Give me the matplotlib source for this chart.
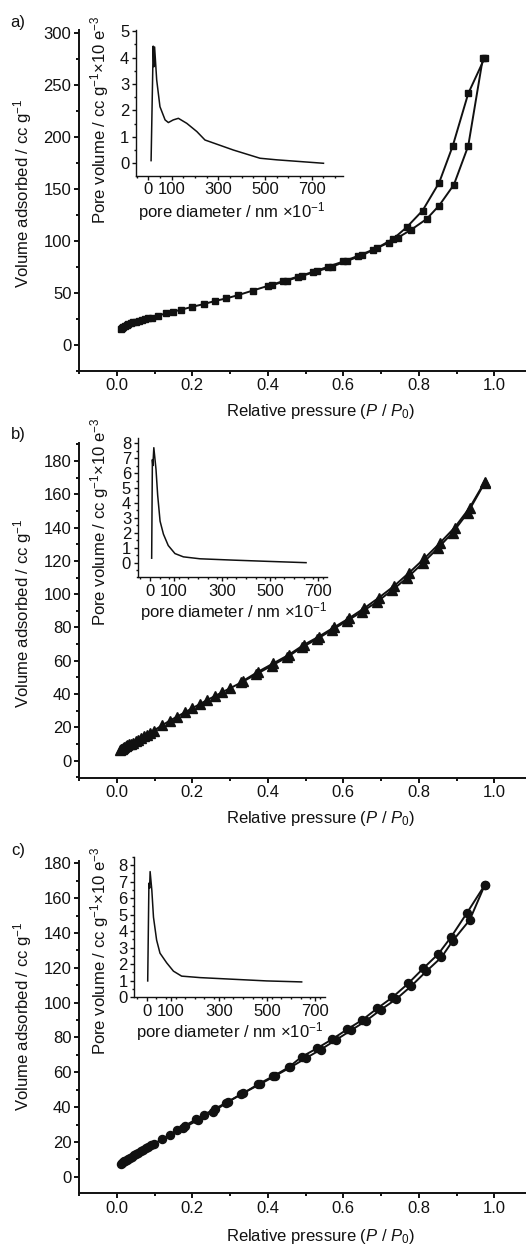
import matplotlib
matplotlib.use("Agg")
import matplotlib.pyplot as plt
from matplotlib.ticker import MultipleLocator, FixedLocator

plt.rcParams['font.family'] = ['Liberation Sans', 'DejaVu Sans']
plt.rcParams['mathtext.fontset'] = 'custom'
plt.rcParams['mathtext.rm'] = 'Liberation Sans'
plt.rcParams['mathtext.it'] = 'Liberation Sans:italic'

# ---- panel a: isotherm (squares) ----
a_ads_p = [0.010, 0.013, 0.017, 0.021, 0.026, 0.031, 0.037, 0.043, 0.050, 0.058, 0.066, 0.075,
           0.084, 0.093, 0.11, 0.13, 0.15, 0.17, 0.20, 0.23, 0.26, 0.29, 0.32, 0.36, 0.40, 0.44,
           0.48, 0.52, 0.56, 0.60, 0.64, 0.68, 0.72, 0.745, 0.779, 0.821, 0.854, 0.893, 0.931, 0.97]
a_ads_v = [15.0, 16.0, 17.0, 18.0, 19.0, 19.8, 20.6, 21.4, 22.2, 23.0, 23.8, 24.6,
           25.4, 26.0, 28.0, 30.0, 31.8, 33.6, 36.4, 39.0, 42.0, 44.5, 47.5, 52.0, 56.5, 61.0,
           65.5, 70.0, 75.0, 80.0, 85.5, 91.5, 98.0, 103.0, 110.3, 120.9, 133.8, 153.8, 191.1, 276.0]
a_des_p = [0.975, 0.931, 0.89, 0.854, 0.81, 0.768, 0.733, 0.69, 0.65, 0.61, 0.57, 0.53, 0.49, 0.45, 0.41]
a_des_v = [276.0, 241.5, 191.1, 155.8, 128.9, 112.9, 102.0, 93.0, 86.0, 80.5, 75.0, 70.5, 66.0, 61.5, 57.0]

# ---- panel b: isotherm (triangles) ----
b_ads_p = [0.008, 0.011, 0.014, 0.017, 0.020, 0.024, 0.028, 0.033, 0.038, 0.044, 0.050, 0.057,
           0.064, 0.072, 0.080, 0.089, 0.098, 0.12, 0.14, 0.16, 0.18, 0.20, 0.22, 0.24, 0.26,
           0.28, 0.30, 0.33, 0.37, 0.41, 0.45, 0.49, 0.53, 0.57, 0.61, 0.65, 0.69, 0.73, 0.77,
           0.81, 0.85, 0.89, 0.93, 0.975]
b_ads_v = [6.3, 6.8, 7.3, 7.8, 8.2, 8.7, 9.2, 9.8, 10.3, 10.9, 11.7, 12.6,
           13.6, 14.6, 15.7, 16.9, 18.1, 21.2, 24.0, 26.5, 29.0, 31.5, 34.0, 36.5, 38.8,
           41.2, 43.5, 47.0, 52.0, 57.0, 62.0, 68.0, 73.0, 78.5, 84.0, 89.5, 95.5, 102.5, 110.0,
           118.5, 127.5, 137.0, 149.0, 167.0]
b_des_p = [0.975, 0.935, 0.895, 0.855, 0.815, 0.775, 0.735, 0.695, 0.655, 0.615, 0.575,
           0.535, 0.495, 0.455, 0.415, 0.375, 0.335]
b_des_v = [167.6, 152.0, 140.0, 130.5, 121.5, 113.0, 105.0, 98.0, 91.5, 85.5, 80.0,
           74.5, 69.5, 63.5, 58.5, 53.5, 48.0]

# ---- panel c: isotherm (circles) ----
c_ads_p = [0.010, 0.013, 0.016, 0.019, 0.022, 0.026, 0.030, 0.035, 0.040, 0.045, 0.051, 0.057,
           0.063, 0.070, 0.077, 0.084, 0.091, 0.098, 0.12, 0.14, 0.16, 0.18, 0.21, 0.23, 0.26,
           0.29, 0.33, 0.38, 0.42, 0.46, 0.50, 0.54, 0.58, 0.62, 0.66, 0.70, 0.74, 0.78, 0.82,
           0.86, 0.89, 0.935, 0.975]
c_ads_v = [7.2, 7.8, 8.3, 8.8, 9.2, 9.8, 10.3, 11.0, 11.6, 12.3, 13.1, 13.9,
           14.7, 15.6, 16.5, 17.3, 18.0, 18.8, 21.6, 24.2, 26.8, 29.2, 33.0, 35.5, 39.0,
           42.5, 47.5, 53.2, 58.0, 62.8, 68.0, 73.0, 78.5, 84.0, 89.5, 96.0, 102.0, 109.5, 118.0,
           126.0, 135.5, 147.5, 167.6]
c_des_p = [0.975, 0.927, 0.885, 0.852, 0.812, 0.772, 0.73, 0.69, 0.65, 0.61, 0.57, 0.53,
           0.49, 0.455, 0.415, 0.375, 0.335, 0.295, 0.255, 0.215, 0.175]
c_des_v = [167.6, 151.3, 137.5, 128.0, 119.7, 111.0, 103.0, 96.7, 90.0, 84.6, 78.9, 73.7,
           68.9, 62.8, 57.8, 53.2, 47.9, 43.1, 37.3, 32.6, 27.8]

# ---- insets: pore size distributions ----
a_pd = [12, 21, 24, 27, 36, 50, 72, 86, 107, 129, 165, 208, 243, 365, 479, 551, 751]
a_pv = [0.1, 4.43, 3.65, 4.4, 3.15, 2.14, 1.64, 1.54, 1.64, 1.70, 1.51, 1.2, 0.88, 0.5, 0.19, 0.13, 0.0]
b_pd = [7, 10, 12, 16, 25, 32, 42, 56, 76, 104, 139, 208, 347, 486, 650]
b_pv = [0.3, 6.9, 6.5, 7.7, 6.26, 4.52, 2.78, 1.91, 1.15, 0.61, 0.39, 0.26, 0.17, 0.09, 0.0]
c_pd = [4, 9, 12, 14, 21, 28, 41, 55, 83, 111, 145, 222, 360, 499, 644]
c_pv = [0.99, 6.9, 6.6, 7.6, 6.5, 4.84, 3.46, 2.67, 2.08, 1.58, 1.28, 1.19, 1.09, 0.99, 0.93]

W, H = 526, 1247
FS = 12
INK = '#111111'


def px_rect(l, t, r, b):
    return [l / W, 1 - b / H, (r - l) / W, (b - t) / H]


def ftext(fig, x, y, s, **kw):
    fig.text(x / W, 1 - y / H, s, fontsize=FS, ha='center', va='center', color=INK, **kw)


def style_axes(ax, lw, major_len, minor_len):
    for side in ('top', 'right'):
        ax.spines[side].set_visible(False)
    for side in ('left', 'bottom'):
        ax.spines[side].set_linewidth(lw)
        ax.spines[side].set_color(INK)
    ax.tick_params(which='major', direction='out', length=major_len, width=lw,
                   labelsize=FS, pad=2, color=INK, labelcolor=INK)
    ax.tick_params(which='minor', direction='out', length=minor_len, width=lw, color=INK)
    ax.patch.set_alpha(0)


fig = plt.figure(figsize=(W / 100, H / 100), dpi=100)

panels = [
    dict(tag='a)', rect=(79, 29.5, 526, 370.7), ylim=(-25, 303), ymaj=50, ymin=25,
         marker='s', ms=4.3, ads=(a_ads_p, a_ads_v), des=(a_des_p, a_des_v),
         yl=193, xl=411, tagy=22,
         inset=(135.7, 30, 343.3, 175.7), ixlim=(-54, 836), iylim=(-0.47, 5.04),
         ixmin=50, pore=(a_pd, a_pv), iyl=(100, 120), ixl=(232, 211.7)),
    dict(tag='b)', rect=(79, 443.3, 526, 777.7), ylim=(-10.2, 190.6), ymaj=20, ymin=10,
         marker='^', ms=7, ads=(b_ads_p, b_ads_v), des=(b_des_p, b_des_v),
         yl=613, xl=818.3, tagy=435,
         inset=(137.5, 438.3, 326.7, 577.3), ixlim=(-52, 736), iylim=(-0.98, 8.33),
         ixmin=40, pore=(b_pd, b_pv), iyl=(100, 522), ixl=(234, 611.7)),
    dict(tag='c)', rect=(79, 860.7, 526, 1193.3), ylim=(-9.5, 181.5), ymaj=20, ymin=10,
         marker='o', ms=5.8, ads=(c_ads_p, c_ads_v), des=(c_des_p, c_des_v),
         yl=1016, xl=1236.7, tagy=850,
         inset=(134, 856.7, 325, 997.3), ixlim=(-53, 741), iylim=(0, 8.5),
         ixmin=40, pore=(c_pd, c_pv), iyl=(100, 951), ixl=(230, 1031.7)),
]

for p in panels:
    ax = fig.add_axes(px_rect(*p['rect']))
    style_axes(ax, 1.4, 3.4, 2.0)
    ax.set_xlim(-0.1, 1.084)
    ax.set_ylim(*p['ylim'])
    ax.xaxis.set_major_locator(FixedLocator([0.0, 0.2, 0.4, 0.6, 0.8, 1.0]))
    ax.xaxis.set_minor_locator(MultipleLocator(0.1))
    ax.xaxis.set_major_formatter(plt.FuncFormatter(lambda v, pos: f"{v:.1f}"))
    ax.yaxis.set_major_locator(MultipleLocator(p['ymaj']))
    ax.yaxis.set_minor_locator(MultipleLocator(p['ymin']))
    for px, pv in (p['ads'], p['des']):
        ax.plot(px, pv, color=INK, lw=1.4, marker=p['marker'], ms=p['ms'],
                mec=INK, mfc=INK, clip_on=False)

    ftext(fig, 23, p['yl'], r'Volume adsorbed / cc g$^{-1}$', rotation=90)
    ftext(fig, 321, p['xl'], r'Relative pressure ($P$ / $P_0$)')
    ftext(fig, 18, p['tagy'], p['tag'])

    ins = fig.add_axes(px_rect(*p['inset']))
    style_axes(ins, 1.0, 2.6, 1.6)
    ins.set_xlim(*p['ixlim'])
    ins.set_ylim(*p['iylim'])
    ins.xaxis.set_major_locator(FixedLocator([0, 100, 300, 500, 700]))
    ins.xaxis.set_minor_locator(MultipleLocator(p['ixmin']))
    ins.yaxis.set_major_locator(MultipleLocator(1))
    ins.yaxis.set_minor_locator(MultipleLocator(0.5))
    ins.plot(p['pore'][0], p['pore'][1], color=INK, lw=1.1)

    ftext(fig, p['iyl'][0], p['iyl'][1],
          'Pore volume / cc g$^{-1}$\u00d710 e$^{-3}$', rotation=90)
    ftext(fig, p['ixl'][0], p['ixl'][1], 'pore diameter / nm \u00d710$^{-1}$')

fig.savefig('out.png', dpi=100)
